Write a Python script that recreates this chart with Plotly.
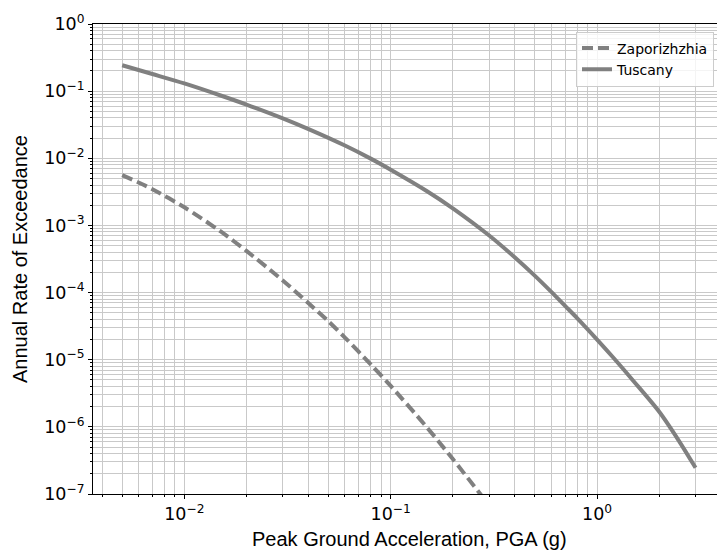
import plotly.graph_objects as go
import numpy as np

# ---- data ----
pga_tuscany = [0.005, 0.007, 0.01, 0.015, 0.02, 0.03, 0.04, 0.06, 0.08, 0.1, 0.15, 0.2,
               0.3, 0.4, 0.5, 0.6, 0.7, 0.8, 1.0, 1.2, 1.5, 2.0, 2.5, 3.0]
rate_tuscany = [0.2427, 0.1799, 0.1303, 0.0861, 0.0631, 0.03936, 0.02723, 0.01549, 0.009886,
                0.006761, 0.003236, 0.001799, 7.079e-4, 3.327e-4, 1.770e-4, 1.023e-4, 6.324e-5,
                4.169e-5, 1.995e-5, 1.069e-5, 4.831e-6, 1.679e-6, 6.095e-7, 2.455e-7]

pga_zapo = [0.005, 0.007, 0.01, 0.015, 0.02, 0.03, 0.04, 0.05, 0.06, 0.08, 0.1, 0.15, 0.2, 0.3]
rate_zapo = [5.623e-3, 3.467e-3, 1.862e-3, 8.128e-4, 4.169e-4, 1.514e-4, 6.918e-5, 3.715e-5,
             2.138e-5, 8.511e-6, 4.074e-6, 9.772e-7, 3.311e-7, 6.761e-8]

x_tick_vals = [0.01, 0.1, 1]
x_tick_text = ["10<sup>\u22122</sup>", "10<sup>\u22121</sup>", "10<sup>0</sup>"]
y_tick_vals = [1e-7, 1e-6, 1e-5, 1e-4, 1e-3, 1e-2, 1e-1, 1]
y_tick_text = ["10<sup>\u22127</sup>", "10<sup>\u22126</sup>", "10<sup>\u22125</sup>", "10<sup>\u22124</sup>",
               "10<sup>\u22123</sup>", "10<sup>\u22122</sup>", "10<sup>\u22121</sup>", "10<sup>0</sup>"]

x_label = "Peak Ground Acceleration, PGA (g)"
y_label = "Annual Rate of Exceedance"

GRAY = "#808080"
GRID = "#c9c9c9"

fig = go.Figure()
fig.add_trace(go.Scatter(x=pga_zapo, y=rate_zapo, mode="lines", name="Zaporizhzhia",
                         line=dict(color=GRAY, width=4, dash="11px,5px", shape="spline", smoothing=0.8)))
fig.add_trace(go.Scatter(x=pga_tuscany, y=rate_tuscany, mode="lines", name="Tuscany",
                         line=dict(color=GRAY, width=4, shape="spline", smoothing=0.8)))

L, R, T, B = 93, 0, 24, 58
W, H = 717, 552

minor_x = [m * 10.0 ** e for e in range(-3, 1) for m in range(2, 10)]
minor_y = [m * 10.0 ** e for e in range(-7, 0) for m in range(2, 10)]

fig.update_layout(
    width=W, height=H,
    margin=dict(l=L, r=R, t=T, b=B, pad=0),
    paper_bgcolor="white", plot_bgcolor="white",
    font=dict(family="DejaVu Sans", color="black"),
    showlegend=True,
    legend=dict(x=(576 - L) / (W - L - R), y=1 - (31.5 - T) / (H - T - B),
                xanchor="left", yanchor="top",
                bgcolor="rgba(255,255,255,0.8)", bordercolor="#cccccc", borderwidth=1,
                font=dict(family="DejaVu Sans", size=14, color="black"),
                tracegroupgap=0),
    xaxis=dict(type="log", range=[np.log10(0.00361), 0.581],
               tickmode="array", tickvals=x_tick_vals, ticktext=x_tick_text,
               ticks="outside", ticklen=4, tickcolor="black", tickwidth=1,
               tickfont=dict(family="DejaVu Sans", size=17.5, color="black"),
               showline=True, linecolor="black", linewidth=1, mirror=True,
               showgrid=True, gridcolor=GRID, gridwidth=1, zeroline=False,
               minor=dict(tickmode="array", tickvals=minor_x, ticks="outside", ticklen=2,
                          tickcolor="black", showgrid=True, gridcolor=GRID, gridwidth=1)),
    yaxis=dict(type="log", range=[-7, 0],
               tickmode="array", tickvals=y_tick_vals, ticktext=y_tick_text,
               ticks="outside", ticklen=4, tickcolor="black", tickwidth=1,
               tickfont=dict(family="DejaVu Sans", size=17.5, color="black"),
               showline=True, linecolor="black", linewidth=1, mirror=False,
               showgrid=True, gridcolor=GRID, gridwidth=1, zeroline=False,
               minor=dict(tickmode="array", tickvals=minor_y, ticks="outside", ticklen=2,
                          tickcolor="black", showgrid=True, gridcolor=GRID, gridwidth=1)),
)

fig.add_annotation(text=x_label, xref="paper", yref="paper",
                   x=(409 - L) / (W - L - R), y=-(539 - (H - B)) / (H - T - B),
                   xanchor="center", yanchor="middle", showarrow=False,
                   font=dict(family="Liberation Sans", size=20, color="black"))
fig.add_annotation(text=y_label, xref="paper", yref="paper",
                   x=-(L - 20) / (W - L - R), y=0.5, textangle=-90,
                   xanchor="center", yanchor="middle", showarrow=False,
                   font=dict(family="Liberation Sans", size=20, color="black"))

fig.write_html("out.html")
